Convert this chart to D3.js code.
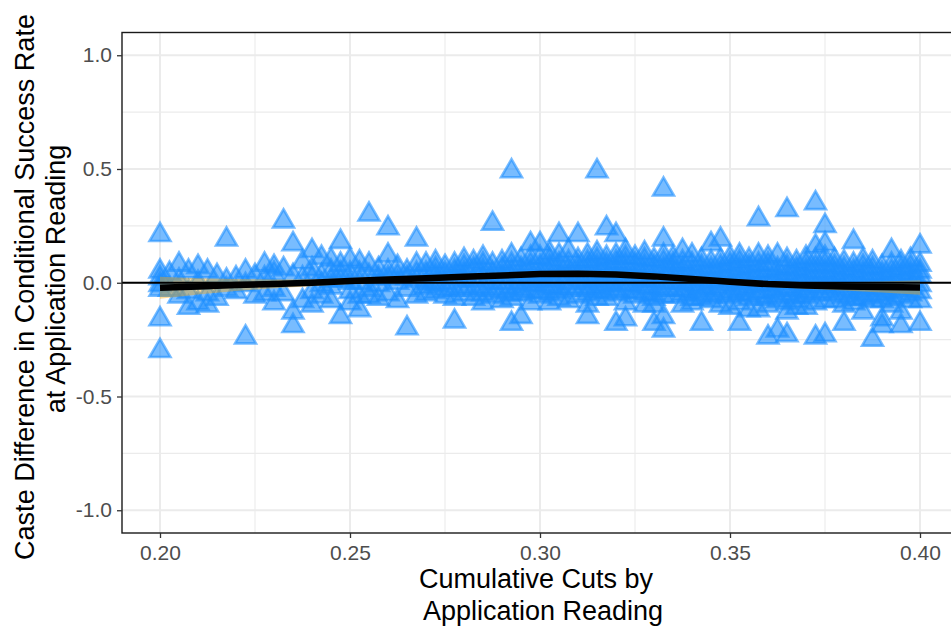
<!DOCTYPE html>
<html>
<head>
<meta charset="utf-8">
<script src="https://cdn.jsdelivr.net/npm/d3@7"></script>
<style>
  body { margin: 0; background: #fff; }
  svg { display: block; font-family: "Liberation Sans", Arial, sans-serif; }
</style>
</head>
<body>
<div id="chart"></div>
<script>
// Cumulative cut levels (x) and caste differences read at each level (y)
const cutLevels = [
  0.2000, 0.2025, 0.2050, 0.2075, 0.2100, 0.2125, 0.2150, 0.2175, 0.2200, 0.2225,
  0.2250, 0.2275, 0.2300, 0.2325, 0.2350, 0.2375, 0.2400, 0.2425, 0.2450, 0.2475,
  0.2500, 0.2525, 0.2550, 0.2575, 0.2600, 0.2625, 0.2650, 0.2675, 0.2700, 0.2725,
  0.2750, 0.2775, 0.2800, 0.2825, 0.2850, 0.2875, 0.2900, 0.2925, 0.2950, 0.2975,
  0.3000, 0.3025, 0.3050, 0.3075, 0.3100, 0.3125, 0.3150, 0.3175, 0.3200, 0.3225,
  0.3250, 0.3275, 0.3300, 0.3325, 0.3350, 0.3375, 0.3400, 0.3425, 0.3450, 0.3475,
  0.3500, 0.3525, 0.3550, 0.3575, 0.3600, 0.3625, 0.3650, 0.3675, 0.3700, 0.3725,
  0.3750, 0.3775, 0.3800, 0.3825, 0.3850, 0.3875, 0.3900, 0.3925, 0.3950, 0.3975,
  0.4000
];

const casteDiffs = [
  [0.21, 0.05, 0.02, -0.01, -0.03, -0.16, -0.30],
  [0.04, -0.03],
  [0.08, 0.01, -0.06],
  [0.05, -0.04, -0.11],
  [0.07, 0.00, -0.09],
  [0.05, -0.05, -0.10],
  [0.03, -0.07],
  [0.19, 0.01, -0.03],
  [0.02, -0.04],
  [0.05, -0.01, -0.24],
  [0.03, -0.06],
  [0.08, 0.02, -0.05],
  [0.07, 0.04, -0.03, -0.09],
  [0.27, 0.06, -0.05],
  [0.17, 0.03, -0.13, -0.19],
  [0.09, 0.02, -0.08],
  [0.14, 0.06, 0.02, -0.04, -0.10],
  [0.11, 0.03, -0.01, -0.06],
  [0.10, 0.05, 0.01, -0.02, -0.08],
  [0.18, 0.08, 0.04, 0.01, -0.15],
  [0.10, 0.04, 0.00, -0.04, -0.09],
  [0.09, 0.04, 0.00, -0.06, -0.12],
  [0.30, 0.08, 0.03, -0.03, -0.06],
  [0.06, 0.02, -0.01, -0.07],
  [0.24, 0.12, 0.05, 0.02, -0.05],
  [0.07, 0.03, 0.00, -0.08],
  [0.05, 0.02, -0.03, -0.20],
  [0.19, 0.08, 0.04, 0.01, -0.06],
  [0.08, 0.04, 0.00, -0.02, -0.05],
  [0.09, 0.06, 0.03, -0.01, -0.04],
  [0.07, 0.04, 0.00, -0.03, -0.06],
  [0.08, 0.05, 0.02, -0.03, -0.07, -0.17],
  [0.10, 0.07, 0.04, 0.01, -0.02, -0.05],
  [0.09, 0.06, 0.01, -0.03, -0.07],
  [0.11, 0.08, 0.05, 0.02, -0.02, -0.05, -0.09],
  [0.26, 0.08, 0.04, 0.00, -0.03, -0.06],
  [0.09, 0.06, 0.03, 0.00, -0.04, -0.08],
  [0.49, 0.12, 0.08, 0.05, 0.02, -0.02, -0.05, -0.07, -0.18],
  [0.10, 0.06, 0.03, 0.00, -0.03, -0.05, -0.15],
  [0.17, 0.11, 0.08, 0.05, 0.02, -0.01, -0.04, -0.09],
  [0.17, 0.11, 0.07, 0.04, 0.01, -0.01, -0.04, -0.06],
  [0.13, 0.10, 0.07, 0.04, 0.01, -0.02, -0.05, -0.09],
  [0.21, 0.12, 0.08, 0.05, 0.02, -0.02, -0.04, -0.07],
  [0.14, 0.09, 0.06, 0.03, 0.00, -0.03, -0.08],
  [0.21, 0.10, 0.07, 0.04, 0.01, -0.02, -0.06],
  [0.12, 0.09, 0.06, 0.03, 0.00, -0.03, -0.05, -0.10, -0.15],
  [0.49, 0.13, 0.10, 0.07, 0.04, 0.01, -0.02, -0.04, -0.07],
  [0.24, 0.11, 0.08, 0.05, 0.02, -0.01, -0.04, -0.07],
  [0.21, 0.12, 0.09, 0.06, 0.03, 0.00, -0.03, -0.05, -0.18],
  [0.14, 0.11, 0.08, 0.05, 0.02, -0.01, -0.04, -0.09, -0.16],
  [0.11, 0.08, 0.05, 0.02, -0.01, -0.04, -0.06],
  [0.13, 0.10, 0.07, 0.04, 0.01, -0.02, -0.05, -0.10],
  [0.10, 0.07, 0.04, 0.01, -0.02, -0.05, -0.07, -0.10, -0.18],
  [0.41, 0.19, 0.12, 0.09, 0.06, 0.03, 0.00, -0.03, -0.06, -0.15, -0.21],
  [0.11, 0.08, 0.06, 0.03, 0.00, -0.03, -0.06],
  [0.14, 0.09, 0.06, 0.03, 0.00, -0.03, -0.05, -0.10],
  [0.12, 0.08, 0.05, 0.02, -0.01, -0.04, -0.07, -0.09],
  [0.10, 0.07, 0.04, 0.01, -0.02, -0.05, -0.07, -0.18],
  [0.17, 0.09, 0.06, 0.03, 0.00, -0.03, -0.06, -0.08],
  [0.19, 0.10, 0.07, 0.04, 0.01, -0.02, -0.05, -0.10],
  [0.11, 0.08, 0.05, 0.02, -0.01, -0.04, -0.06, -0.11],
  [0.12, 0.09, 0.06, 0.03, 0.00, -0.03, -0.05, -0.09, -0.18],
  [0.10, 0.07, 0.04, 0.01, -0.02, -0.05, -0.07, -0.12],
  [0.28, 0.12, 0.08, 0.05, 0.02, -0.01, -0.04, -0.06, -0.12],
  [0.11, 0.08, 0.05, 0.02, -0.01, -0.04, -0.07, -0.10, -0.24],
  [0.12, 0.06, 0.03, 0.00, -0.03, -0.06, -0.08, -0.21],
  [0.32, 0.10, 0.07, 0.04, 0.01, -0.02, -0.05, -0.09, -0.13, -0.23],
  [0.09, 0.06, 0.03, 0.00, -0.03, -0.06, -0.08, -0.11],
  [0.11, 0.08, 0.05, 0.02, -0.01, -0.04, -0.06, -0.11],
  [0.35, 0.16, 0.10, 0.07, 0.04, 0.01, -0.02, -0.05, -0.09, -0.24],
  [0.25, 0.17, 0.11, 0.08, 0.05, 0.02, -0.01, -0.04, -0.08, -0.23],
  [0.10, 0.07, 0.04, 0.01, -0.02, -0.05, -0.08],
  [0.09, 0.06, 0.03, 0.00, -0.03, -0.06, -0.10, -0.18],
  [0.18, 0.08, 0.05, 0.02, -0.01, -0.04, -0.07, -0.09],
  [0.10, 0.07, 0.04, 0.01, -0.02, -0.05, -0.07, -0.13],
  [0.09, 0.06, 0.03, 0.00, -0.03, -0.06, -0.08, -0.25],
  [0.07, 0.04, 0.01, -0.02, -0.05, -0.08, -0.16, -0.19],
  [0.14, 0.08, 0.05, 0.02, -0.01, -0.04, -0.07, -0.10],
  [0.09, 0.06, 0.03, 0.00, -0.03, -0.06, -0.13, -0.19],
  [0.10, 0.07, 0.04, 0.01, -0.02, -0.05, -0.08],
  [0.16, 0.08, 0.05, 0.03, -0.01, -0.04, -0.08, -0.18]
];

// Smoothed fit and its standard-error half width
const smoothCuts = [0.200, 0.210, 0.220, 0.230, 0.240, 0.250, 0.260, 0.270, 0.280, 0.290, 0.300,
                    0.310, 0.320, 0.330, 0.340, 0.350, 0.360, 0.370, 0.380, 0.390, 0.400];
const smoothFit = [-0.022, -0.016, -0.010, -0.005, 0.000, 0.008, 0.014, 0.020, 0.026, 0.032, 0.038,
                   0.040, 0.036, 0.028, 0.016, 0.004, -0.006, -0.012, -0.016, -0.019, -0.021];
const smoothSe = [0.048, 0.036, 0.026, 0.019, 0.015, 0.013, 0.012, 0.011, 0.011, 0.011, 0.011,
                  0.011, 0.011, 0.011, 0.011, 0.012, 0.012, 0.014, 0.018, 0.024, 0.032];

const xTicks = [0.20, 0.25, 0.30, 0.35, 0.40];
const xMinor = [0.225, 0.275, 0.325, 0.375];
const yTicks = [-1.0, -0.5, 0.0, 0.5, 1.0];
const yMinor = [-0.75, -0.25, 0.25, 0.75];

// Layout
const width = 951, height = 631;
const panel = { left: 122, right: 958, top: 32.5, bottom: 533 };

const svg = d3.select("#chart").append("svg")
  .attr("width", width)
  .attr("height", height);

const x = d3.scaleLinear().domain([0.19, 0.41]).range([panel.left, panel.right]);
const y = d3.scaleLinear().domain([-1.1, 1.1]).range([panel.bottom, panel.top]);

svg.append("defs").append("clipPath").attr("id", "panel-clip")
  .append("rect")
  .attr("x", panel.left).attr("y", panel.top)
  .attr("width", panel.right - panel.left)
  .attr("height", panel.bottom - panel.top);

// Grid lines
const grid = svg.append("g");
grid.selectAll(".xminor").data(xMinor).join("line")
  .attr("x1", d => x(d)).attr("x2", d => x(d))
  .attr("y1", panel.top).attr("y2", panel.bottom)
  .attr("stroke", "#ebebeb").attr("stroke-width", 1.1);
grid.selectAll(".yminor").data(yMinor).join("line")
  .attr("x1", panel.left).attr("x2", panel.right)
  .attr("y1", d => y(d)).attr("y2", d => y(d))
  .attr("stroke", "#ebebeb").attr("stroke-width", 1.1);
grid.selectAll(".xmajor").data(xTicks).join("line")
  .attr("x1", d => x(d)).attr("x2", d => x(d))
  .attr("y1", panel.top).attr("y2", panel.bottom)
  .attr("stroke", "#ebebeb").attr("stroke-width", 2);
grid.selectAll(".ymajor").data(yTicks).join("line")
  .attr("x1", panel.left).attr("x2", panel.right)
  .attr("y1", d => y(d)).attr("y2", d => y(d))
  .attr("stroke", "#ebebeb").attr("stroke-width", 2);

// Points
const points = [];
cutLevels.forEach((c, i) => {
  casteDiffs[i].forEach(v => points.push({ cut: c, diff: v }));
});

const plot = svg.append("g").attr("clip-path", "url(#panel-clip)");
const tri = d3.symbol().type(d3.symbolTriangle).size(190);

plot.append("g").selectAll("path")
  .data(points)
  .join("path")
  .attr("d", tri)
  .attr("transform", d => `translate(${x(d.cut)},${y(d.diff)})`)
  .attr("fill", "rgba(30,144,255,0.6)")
  .attr("stroke", "rgba(30,144,255,0.6)")
  .attr("stroke-width", 2.6);

// Smooth band and line
const smooth = smoothCuts.map((c, i) => ({ cut: c, fit: smoothFit[i], se: smoothSe[i] }));

plot.append("path")
  .datum(smooth)
  .attr("d", d3.area()
    .x(d => x(d.cut))
    .y0(d => y(d.fit - d.se))
    .y1(d => y(d.fit + d.se)))
  .attr("fill", "orange")
  .attr("fill-opacity", 0.4);

// Reference line at zero
plot.append("line")
  .attr("x1", panel.left).attr("x2", panel.right)
  .attr("y1", y(0)).attr("y2", y(0))
  .attr("stroke", "#000").attr("stroke-width", 2);

plot.append("path")
  .datum(smooth)
  .attr("d", d3.line().x(d => x(d.cut)).y(d => y(d.fit)))
  .attr("fill", "none")
  .attr("stroke", "#000")
  .attr("stroke-width", 6.5);

// Panel border
svg.append("rect")
  .attr("x", panel.left).attr("y", panel.top)
  .attr("width", panel.right - panel.left)
  .attr("height", panel.bottom - panel.top)
  .attr("fill", "none")
  .attr("stroke", "#1a1a1a")
  .attr("stroke-width", 1.4);

// Axes
const xAxis = svg.append("g")
  .attr("transform", `translate(0,${panel.bottom})`)
  .call(d3.axisBottom(x).tickValues(xTicks).tickFormat(d => d.toFixed(2)).tickSize(5).tickPadding(7));
const yAxis = svg.append("g")
  .attr("transform", `translate(${panel.left},0)`)
  .call(d3.axisLeft(y).tickValues(yTicks).tickFormat(d => d.toFixed(1)).tickSize(5).tickPadding(5));

[xAxis, yAxis].forEach(a => {
  a.select(".domain").remove();
  a.selectAll(".tick line").attr("stroke", "#333").attr("stroke-width", 1.3);
  a.selectAll(".tick text")
    .attr("fill", "#4d4d4d")
    .style("font-size", "21px")
    .style("font-family", "'Liberation Sans', Arial, sans-serif");
});

// Axis titles
const titleStyle = sel => sel
  .attr("text-anchor", "middle")
  .attr("fill", "#000")
  .style("font-size", "27px");

svg.append("text").call(titleStyle)
  .attr("x", 536).attr("y", 588)
  .text("Cumulative Cuts by");
svg.append("text").call(titleStyle)
  .attr("x", 543).attr("y", 620)
  .text("Application Reading");

svg.append("text").call(titleStyle)
  .attr("transform", "translate(34,287) rotate(-90)")
  .text("Caste Difference in Conditional Success Rate");
svg.append("text").call(titleStyle)
  .attr("transform", "translate(65,279) rotate(-90)")
  .text("at Application Reading");
</script>
</body>
</html>
